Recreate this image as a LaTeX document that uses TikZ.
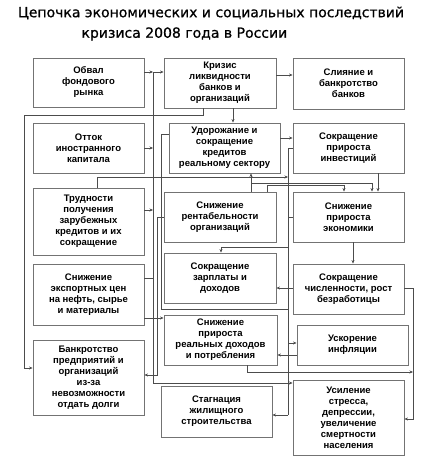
\documentclass[tikz,border=0pt]{standalone}
\usepackage{fontspec}
\setmainfont{Liberation Sans}
\newfontfamily\titlefont[FakeBold=0.8]{DejaVu Sans}
\usepackage{tikz}
\usetikzlibrary{arrows.meta}

\begin{document}
\begin{tikzpicture}[x=1pt, y=-1pt,
  box/.style={draw=black!55, line width=0.9pt, fill=white, align=center,
    inner sep=1pt, font=\fontsize{9.5}{11}\selectfont\bfseries},
  link/.style={draw=black!70, line width=0.5pt},
  arr/.style={link, -{Stealth[length=3.5pt,width=3pt]}}]
\useasboundingbox (0,0) rectangle (434,463);
\node[font=\titlefont\fontsize{14}{16}\selectfont] (title1) at (211,13)
  {Цепочка экономических и социальных последствий};
\node[anchor=west, font=\titlefont\fontsize{14}{16}\selectfont] (title2) at (78,34)
  {кризиса 2008 года в России};
% left column
\node[box, minimum width=111pt, minimum height=49pt] (obval) at (88.5,82.5) {Обвал\\фондового\\рынка};
\node[box, minimum width=111pt, minimum height=50pt] (ottok) at (88.5,148) {Отток\\иностранного\\капитала};
\node[box, minimum width=111pt, minimum height=67pt] (trud) at (88.5,221.5) {Трудности\\получения\\зарубежных\\кредитов и их\\сокращение};
\node[box, minimum width=111pt, minimum height=61pt] (export) at (88.5,294.5) {Снижение\\экспортных цен\\на нефть, сырье\\и материалы};
\node[box, minimum width=111pt, minimum height=75pt] (bankr) at (88.5,377.5) {Банкротство\\предприятий и\\организаций\\из-за\\невозможности\\отдать долги};
% middle column
\node[box, minimum width=112pt, minimum height=50pt] (krizis) at (220,83) {Кризис\\ликвидности\\банков и\\организаций};
\node[box, minimum width=111pt, minimum height=50pt] (udor) at (224.5,148) {Удорожание и\\сокращение\\кредитов\\реальному сектору};
\node[box, minimum width=112pt, minimum height=50pt] (rent) at (220,217) {Снижение\\рентабельности\\организаций};
\node[box, minimum width=112pt, minimum height=50pt] (zarp) at (220,278) {Сокращение\\зарплаты и\\доходов};
\node[box, minimum width=113pt, minimum height=50pt] (dohod) at (220.5,340) {Снижение\\прироста\\реальных доходов\\и потребления};
\node[box, minimum width=111pt, minimum height=51pt] (stagn) at (216.5,411.5) {Стагнация\\жилищного\\строительства};
% right column
\node[box, minimum width=111pt, minimum height=51pt] (sliyanie) at (348.5,83.5) {Слияние и\\банкротство\\банков};
\node[box, minimum width=111pt, minimum height=50pt] (invest) at (348.5,148) {Сокращение\\прироста\\инвестиций};
\node[box, minimum width=111pt, minimum height=50pt] (ekon) at (348.5,217) {Снижение\\прироста\\экономики};
\node[box, minimum width=111pt, minimum height=50pt] (chisl) at (348.5,289) {Сокращение\\численности, рост\\безработицы};
\node[box, minimum width=111pt, minimum height=40pt] (infl) at (352.5,345) {Ускорение\\инфляции};
\node[box, minimum width=111pt, minimum height=75pt] (stress) at (348.5,417.5) {Усиление\\стресса,\\депрессии,\\увеличение\\смертности\\населения};
% buses
\coordinate (bL) at (24,0);
\coordinate (bA) at (153,0);
\coordinate (bC) at (157,0);
\coordinate (bB) at (161,0);
\coordinate (bR) at (288,0);
\coordinate (bE) at (413,0);
% connectors
\draw[arr] (obval.east |- 0,72) -- (bA |- 0,72);
\draw[arr] (bA |- 0,72) -- (krizis.west |- 0,72);
\draw[link] (bA |- 0,72) -- (bA |- 0,383);
\draw[arr] (bA |- 0,383) -- (stress.west |- 0,383);
\draw[arr] (ottok.east) -- (bA |- ottok.east);
\draw[arr] (trud.east |- 0,210) -- (bA |- 0,210);
\draw[link] (export.east |- 0,278) -- (bA |- 0,278);
\draw[arr] (export.east |- 0,318) -- (dohod.west |- 0,318);
\draw[arr] (krizis.east |- 0,75) -- (sliyanie.west |- 0,75);
\draw[arr] (krizis.south -| 233,0) -- (udor.north -| 233,0);
\draw[arr] (krizis.south -| 203,0) |- (bL |- 0,115) -- (bL |- 0,368) -- (bankr.west |- 0,368);
\draw[arr] (udor.east |- 0,138) -- (invest.west |- 0,138);
\draw[arr] (invest.south -| 378,0) -- (ekon.north -| 378,0);
\draw[arr] (rent.north -| 251,0) -- (udor.south -| 251,0);
\draw[arr] (udor.south -| 251,0) ++(0,10) -| (ekon.north -| 372,0);
\draw[arr] (rent.north -| 267,0) -- ++(0,-6) -| (ekon.north -| 344,0);
\draw[arr] (trud.north -| 97,0) |- (bR |- 0,177);
\draw[arr] (ekon.south -| 353,0) -- (chisl.north -| 353,0);
\draw[arr] (chisl.west |- 0,288) -- (zarp.east |- 0,288);
\draw[link] (invest.west |- 0,148) -- (bR |- 0,148) -- (bR |- 0,415);
\draw[arr] (bR |- 0,415) -- (stagn.east |- 0,415);
\draw[link] (ekon.west) -- (bR |- ekon.west);
\draw[arr] (bR |- 0,247) -| (zarp.north -| 221,0);
\draw[arr] (bR |- 0,343) -- (infl.west |- 0,343);
\draw[arr] (infl.west |- 0,355) -- (dohod.east |- 0,355);
\draw[link] (udor.west |- 0,134) -| (bB |- 0,309) -- (bR |- 0,309);
\draw[arr] (rent.west) -| (bC |- 0,375) -- (bankr.east |- 0,375);
\draw[arr] (dohod.south -| 247,0) |- (bE |- 0,372);
\draw[arr] (chisl.east |- 0,288) -| (bE |- 0,419) -- (stress.east |- 0,419);
\end{tikzpicture}
\end{document}
